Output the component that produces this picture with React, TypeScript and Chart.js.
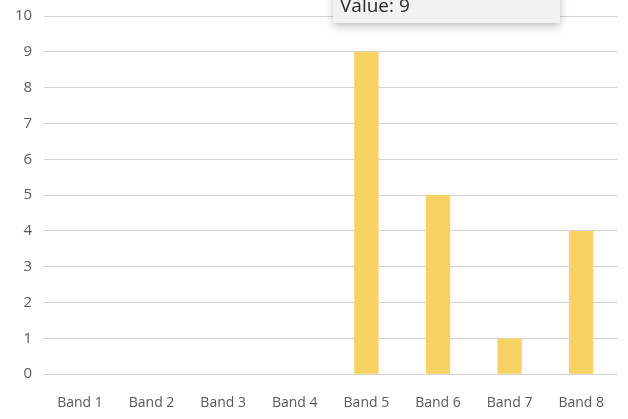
import React, { useEffect, useRef } from "react";
import { Chart, registerables } from "chart.js";

Chart.register(...registerables);

const categories = ["Band 1", "Band 2", "Band 3", "Band 4", "Band 5", "Band 6", "Band 7", "Band 8"];
const values = [0, 0, 0, 0, 9, 5, 1, 4];
const yTicks = [0, 1, 2, 3, 4, 5, 6, 7, 8, 9, 10];
const hoverIndex = 4;

// Hover tooltip box for the highlighted band, drawn on top of the plot
const hoverBox = {
  id: "hoverBox",
  afterDraw(chart: any) {
    const ctx = chart.ctx;
    const label = "Value: " + values[hoverIndex];
    ctx.save();
    ctx.shadowColor = "rgba(0,0,0,0.25)";
    ctx.shadowBlur = 8;
    ctx.shadowOffsetY = 3;
    ctx.fillStyle = "#f2f2f2";
    ctx.fillRect(333, -20, 227, 43);
    ctx.restore();
    ctx.save();
    ctx.fillStyle = "#2b2b2b";
    ctx.font = "19px 'Open Sans', sans-serif";
    ctx.textBaseline = "alphabetic";
    ctx.textAlign = "left";
    ctx.fillText(label, 340, 12);
    ctx.restore();
  },
};

export default function App() {
  const ref = useRef<HTMLCanvasElement>(null);

  useEffect(() => {
    if (!ref.current) return;
    const chart = new Chart(ref.current, {
      type: "bar",
      data: {
        labels: categories,
        datasets: [
          {
            data: values,
            backgroundColor: "#f8d263",
            borderWidth: 0,
            barPercentage: 0.34,
            categoryPercentage: 1,
          },
        ],
      },
      options: {
        animation: false,
        responsive: true,
        maintainAspectRatio: false,
        layout: { padding: { top: 0, right: 11, bottom: -12, left: 3 } },
        plugins: { legend: { display: false }, tooltip: { enabled: false } },
        scales: {
          x: {
            grid: { display: false, drawTicks: false },
            border: { display: false },
            ticks: { color: "#595959", font: { family: "'Open Sans', sans-serif", size: 14 }, padding: 20 },
          },
          y: {
            min: 0,
            max: 10,
            afterBuildTicks: (axis: any) => {
              axis.ticks = yTicks.map((v) => ({ value: v }));
            },
            afterFit: (axis: any) => {
              axis.paddingTop = 16;
            },
            grid: { color: "#d3d3d3", lineWidth: 1, drawTicks: false },
            border: { display: false },
            ticks: { color: "#595959", font: { family: "'Open Sans', sans-serif", size: 15 }, padding: 12 },
          },
        },
      },
      plugins: [hoverBox],
    });
    return () => chart.destroy();
  }, []);

  return (
    <div style={{ position: "fixed", left: 0, top: 0, width: 628, height: 419, background: "#fff" }}>
      <canvas ref={ref} />
    </div>
  );
}
